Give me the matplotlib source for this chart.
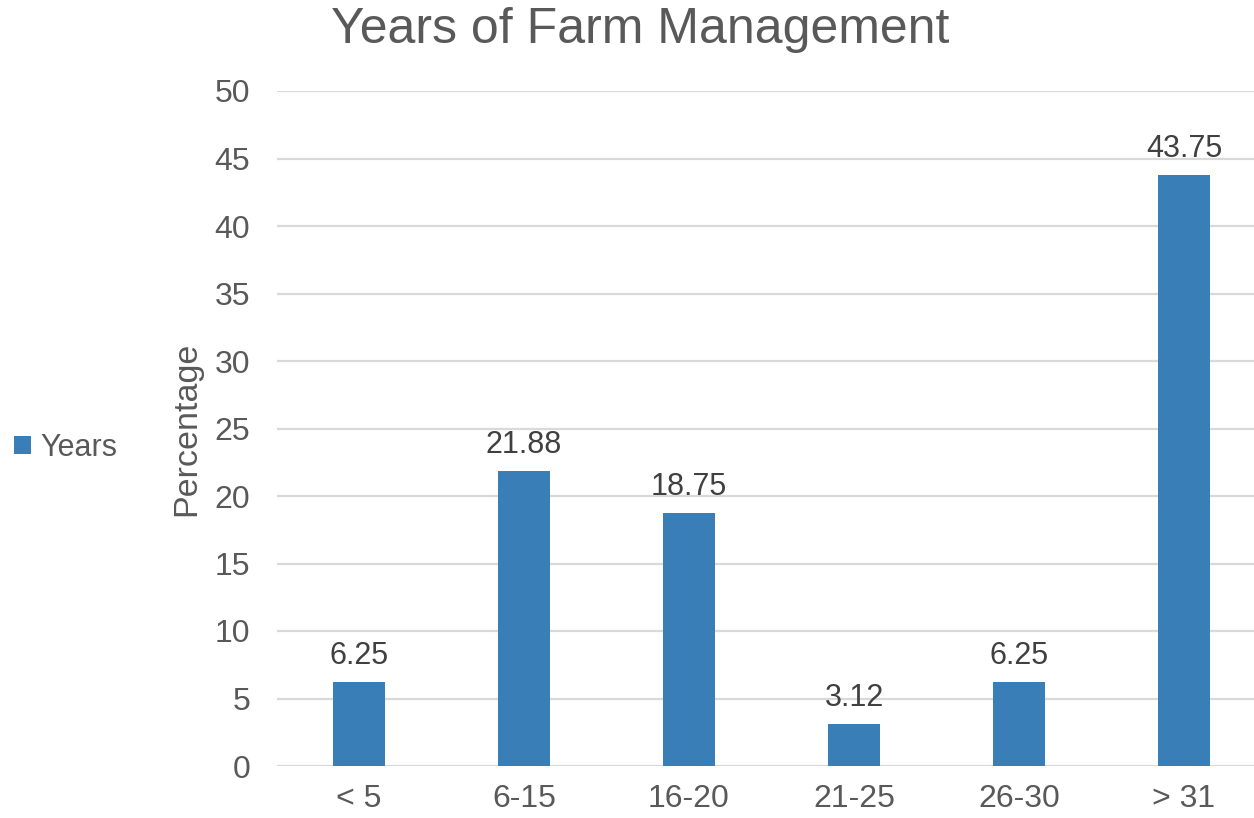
import matplotlib.pyplot as plt
import numpy as np
from matplotlib.patches import Patch

categories = ['< 5', '6-15', '16-20', '21-25', '26-30', '> 31']
percentages = [6.25, 21.88, 18.75, 3.12, 6.25, 43.75]
series_name = 'Years'

bar_color = '#3A7EB8'
grid_color = '#D9D9D9'
tick_color = '#595959'
label_color = '#404040'

plt.rcParams['font.family'] = ['Liberation Sans', 'DejaVu Sans']

fig = plt.figure(figsize=(12.54, 8.18), dpi=100)
# plot area in figure fractions (taken from reference pixels)
left = 276.5 / 1254
right = 1266.5 / 1254
bottom = 1 - 766 / 818
top = 1 - 91 / 818
ax = fig.add_axes([left, bottom, right - left, top - bottom])

x = np.arange(len(categories))
bars = ax.bar(x, percentages, width=0.31, color=bar_color, zorder=3)

ax.set_xlim(-0.5, len(categories) - 0.5)
ax.set_ylim(0, 50)
ax.set_yticks(np.arange(0, 51, 5))
ax.set_xticks(x)
ax.set_xticklabels(categories)

ax.grid(axis='y', color=grid_color, linewidth=1.6, zorder=0)
for side in ['top', 'right', 'left', 'bottom']:
    ax.spines[side].set_visible(False)
ax.tick_params(axis='both', length=0, labelsize=23, colors=tick_color)
ax.tick_params(axis='y', pad=19)
ax.tick_params(axis='x', pad=13)

for b, v in zip(bars, percentages):
    ax.annotate(f'{v:.2f}', (b.get_x() + b.get_width() / 2, v),
                xytext=(0, 8), textcoords='offset points',
                ha='center', va='bottom', fontsize=22, color=label_color)

fig.text(187 / 1254, 1 - 429 / 818, 'Percentage', rotation=90,
         ha='center', va='center', fontsize=24.5, color=tick_color)

fig.text(640 / 1254, 1 - 30 / 818, 'Years of Farm Management',
         ha='center', va='center', fontsize=36, color=tick_color)

handle = Patch(facecolor=bar_color, edgecolor='none')
fig.legend([handle], [series_name], loc='center left',
           bbox_to_anchor=(8 / 1254, 1 - 448 / 818), frameon=False,
           fontsize=22, labelcolor=tick_color, handlelength=0.55,
           handleheight=0.55, handletextpad=0.3, borderaxespad=0.0,
           borderpad=0.2)

fig.savefig('out.png', dpi=100)
